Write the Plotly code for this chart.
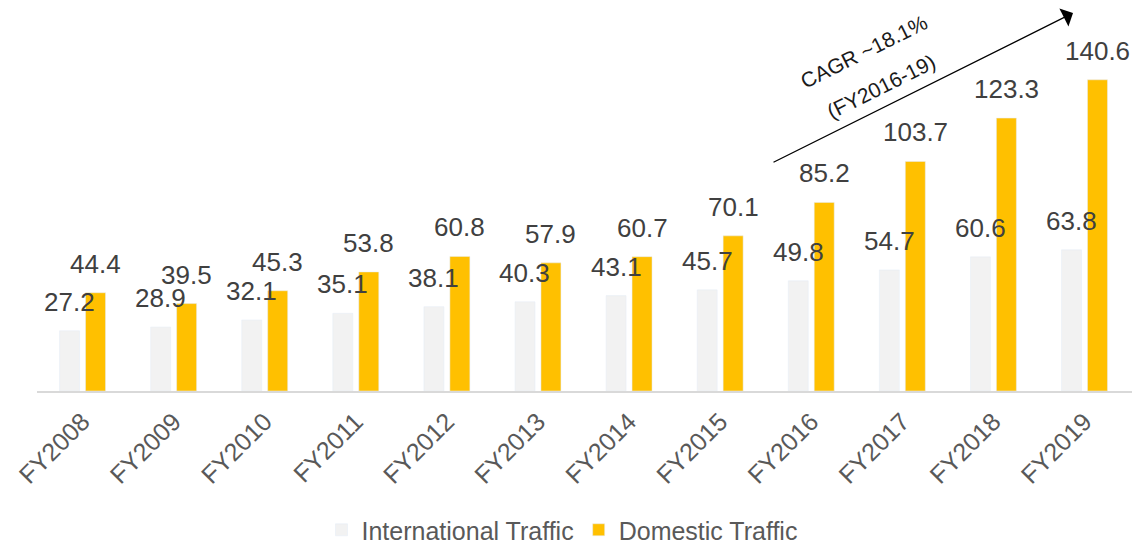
import plotly.graph_objects as go

years = ["FY2008", "FY2009", "FY2010", "FY2011", "FY2012", "FY2013",
         "FY2014", "FY2015", "FY2016", "FY2017", "FY2018", "FY2019"]
international = [27.2, 28.9, 32.1, 35.1, 38.1, 40.3, 43.1, 45.7, 49.8, 54.7, 60.6, 63.8]
domestic = [44.4, 39.5, 45.3, 53.8, 60.8, 57.9, 60.7, 70.1, 85.2, 103.7, 123.3, 140.6]

INTL_COLOR = "#f2f2f2"
DOM_COLOR = "#ffc000"
FONT = "Liberation Sans, Arial, sans-serif"

# plot area geometry in pixels
L, R, T, B = 37, 3, 59, 153
W, H = 1135 - L - R, 544 - T - B
BASE = 544 - B


def px(x, y):
    """Pixel position on the page -> paper coordinates."""
    return (x - L) / W, (BASE - y) / H


fig = go.Figure()
fig.add_trace(go.Bar(x=years, y=international, name="International Traffic",
                     marker_color=INTL_COLOR))
fig.add_trace(go.Bar(x=years, y=domestic, name="Domestic Traffic",
                     marker_color=DOM_COLOR))

# value labels above each bar, shifted onto their bar within the group
annotations = []
for series, shift in ((international, -13), (domestic, 13)):
    for yr, v in zip(years, series):
        annotations.append(dict(
            x=yr, y=v, xref="x", yref="y", text=f"{v:.1f}", showarrow=False,
            xshift=shift, yshift=12, yanchor="bottom",
            font=dict(family=FONT, size=26, color="#404040")))

# growth arrow and CAGR note
hx, hy = px(1073, 13)
annotations.append(dict(
    xref="paper", yref="paper", x=hx, y=hy,
    ax=-301, ay=150, showarrow=True, arrowhead=1, arrowsize=2.6,
    arrowwidth=1.3, arrowcolor="#000000", text=""))
for label, (cx, cy) in (("CAGR ~18.1%", (864, 52)), ("(FY2016-19)", (881, 86))):
    ax_, ay_ = px(cx, cy)
    annotations.append(dict(
        xref="paper", yref="paper", x=ax_, y=ay_, xanchor="center",
        yanchor="middle", text=label, showarrow=False, textangle=-26.5,
        font=dict(family=FONT, size=21, color="#1a1a1a")))

fig.update_layout(
    width=1135, height=544,
    margin=dict(l=L, r=R, t=T, b=B, autoexpand=False),
    paper_bgcolor="white", plot_bgcolor="white",
    barmode="group", bargap=0.43, bargroupgap=0.23,
    showlegend=True,
    legend=dict(orientation="h", x=px(562, 0)[0], xanchor="center",
                y=px(0, 530)[1], yanchor="middle",
                font=dict(family=FONT, size=25, color="#595959"),
                itemwidth=30, tracegroupgap=0),
    annotations=annotations,
    font=dict(family=FONT),
)
fig.update_xaxes(showline=True, linecolor="#d9d9d9", linewidth=2,
                 tickangle=-45, ticks="", showgrid=False, automargin=False,
                 ticklabelstandoff=4,
                 tickfont=dict(family=FONT, size=25, color="#595959"))
fig.update_yaxes(visible=False, range=[0, 150], showgrid=False, automargin=False)

fig.write_html("out.html")
